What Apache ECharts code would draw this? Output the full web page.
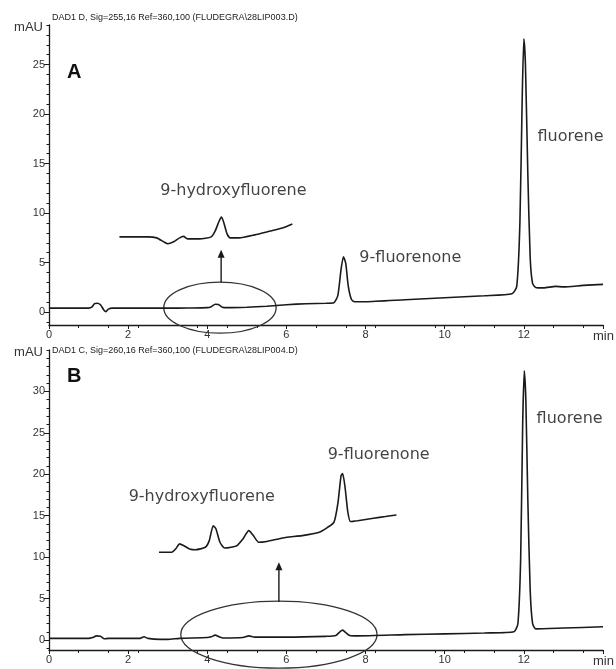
<!DOCTYPE html>
<html>
<head>
<meta charset="utf-8">
<script src="https://cdn.jsdelivr.net/npm/echarts@6/dist/echarts.min.js"></script>
<style>
  html, body { margin: 0; padding: 0; background: #fff; }
  #chart { width: 616px; height: 669px; }
</style>
</head>
<body>
<div id="chart"></div>
<script>
// run A: DAD1 D, 255 nm
const headerA = 'DAD1 D, Sig=255,16 Ref=360,100 (FLUDEGRA\\28LIP003.D)'
const traceA = [
  [0, 0.4], [0.5, 0.4], [1.0, 0.4], [1.08, 0.5], [1.15, 0.85], [1.22, 0.9], [1.3, 0.75],
  [1.38, 0.25], [1.44, 0.05], [1.5, 0.3], [1.6, 0.4], [2.0, 0.4], [2.5, 0.4], [3.0, 0.4],
  [3.5, 0.42], [4.0, 0.45], [4.1, 0.55], [4.2, 0.8], [4.28, 0.78], [4.38, 0.5], [4.5, 0.45],
  [5.0, 0.5], [5.5, 0.6], [6.0, 0.75], [6.5, 0.85], [7.0, 0.9], [7.2, 0.95], [7.3, 1.7],
  [7.38, 4.3], [7.44, 5.6], [7.5, 4.9], [7.56, 2.7], [7.64, 1.3], [7.72, 1.05], [8.0, 1.05],
  [9.0, 1.25], [10.0, 1.45], [11.0, 1.65], [11.7, 1.85], [11.82, 2.6], [11.9, 9], [11.96, 22],
  [12.0, 27.6], [12.04, 25], [12.1, 14], [12.16, 5.5], [12.22, 2.9], [12.3, 2.5], [12.5, 2.45],
  [12.8, 2.6], [13.0, 2.55], [13.5, 2.7], [14.0, 2.8]
]
const insetA = [
  [1.78, 7.6], [2.0, 7.6], [2.5, 7.6], [2.72, 7.5], [2.9, 7.1], [3.0, 6.9], [3.15, 7.1],
  [3.3, 7.5], [3.4, 7.65], [3.5, 7.4], [3.8, 7.4], [4.1, 7.6], [4.2, 8.2], [4.3, 9.2],
  [4.36, 9.6], [4.42, 9.0], [4.5, 7.9], [4.58, 7.5], [4.8, 7.5], [5.2, 7.8], [5.6, 8.2],
  [5.9, 8.5], [6.15, 8.9]
]
const labelNamesA = ['9-hydroxyfluorene', '9-fluorenone', 'fluorene']
const labelPosA = [[2.8, 12.3], [7.83, 5.45], [12.33, 17.7]]
const ellipseA = [[4.32, 0.45, 1.42, 2.58]]   // centre t, centre mAU, half width, half height
const arrowA = [[4.35, 3.0, 6.3]]             // t, from mAU, to mAU
const yTicksA = [0, 5, 10, 15, 20, 25]

// run B: DAD1 C, 260 nm
const headerB = 'DAD1 C, Sig=260,16 Ref=360,100 (FLUDEGRA\\28LIP004.D)'
const traceB = [
  [0, 0.2], [1.0, 0.2], [1.1, 0.3], [1.2, 0.5], [1.3, 0.45], [1.4, 0.15], [1.5, 0.2],
  [2.3, 0.2], [2.4, 0.4], [2.5, 0.2], [2.8, 0.08], [3.0, 0.08], [3.3, 0.2], [4.0, 0.3],
  [4.1, 0.4], [4.2, 0.6], [4.3, 0.4], [4.4, 0.25], [4.9, 0.3], [5.05, 0.5], [5.2, 0.35],
  [6.0, 0.35], [7.0, 0.45], [7.25, 0.55], [7.35, 1.0], [7.42, 1.2], [7.5, 0.9], [7.6, 0.55],
  [7.8, 0.5], [9.0, 0.65], [10.0, 0.75], [11.0, 0.85], [11.75, 1.0], [11.85, 2], [11.92, 10],
  [11.97, 26], [12.01, 32.5], [12.05, 29], [12.1, 17], [12.16, 6], [12.22, 2], [12.3, 1.35],
  [13.0, 1.45], [14.0, 1.6]
]
const insetB = [
  [2.78, 10.6], [3.1, 10.6], [3.2, 11.0], [3.3, 11.6], [3.4, 11.4], [3.55, 11.0], [3.7, 10.9],
  [3.95, 11.2], [4.05, 12.0], [4.15, 13.8], [4.22, 13.4], [4.32, 11.8], [4.44, 11.1], [4.6, 11.2],
  [4.75, 11.4], [4.9, 12.2], [5.05, 13.2], [5.15, 12.7], [5.3, 11.8], [5.5, 11.9], [5.8, 12.2],
  [6.0, 12.4], [6.4, 12.6], [6.83, 13.0], [7.04, 13.6], [7.2, 14.2], [7.3, 16.5], [7.38, 19.8],
  [7.42, 20.1], [7.48, 18.5], [7.55, 15.5], [7.62, 14.3], [7.8, 14.4], [8.2, 14.7], [8.5, 14.9],
  [8.78, 15.1]
]
const labelNamesB = ['9-hydroxyfluorene', '9-fluorenone', 'fluorene']
const labelPosB = [[2.0, 17.3], [7.03, 22.3], [12.31, 26.7]]
const ellipseB = [[5.81, 0.66, 2.48, 4.04]]
const arrowB = [[5.81, 4.6, 9.4]]
const yTicksB = [0, 5, 10, 15, 20, 25, 30]

const xTicks = [0, 2, 4, 6, 8, 10, 12, 14]
const xLabels = [0, 2, 4, 6, 8, 10, 12]   // 14 is replaced by the "min" unit

const ink = '#1a1a1a'
const axisFont = 'Liberation Sans, Arial, sans-serif'

function range(a, b) {
  const r = []
  for (let i = a; i <= b; i++) r.push(i)
  return r
}

function makeX(gridIndex) {
  return {
    type: 'value',
    gridIndex: gridIndex,
    min: 0,
    max: 14,
    name: 'min',
    nameLocation: 'end',
    nameGap: -10,
    nameMoveOverlap: false,
    nameTextStyle: { fontSize: 13, color: '#333', fontFamily: axisFont, align: 'left', verticalAlign: 'top', padding: [5, 0, 0, 0] },
    axisLine: { onZero: false, lineStyle: { color: ink, width: 1.3 } },
    axisTick: { length: 4, customValues: xTicks, lineStyle: { color: ink } },
    minorTick: { show: true, splitNumber: 4, length: 3, lineStyle: { color: ink } },
    axisLabel: { customValues: xLabels, fontSize: 11, color: '#333', margin: 4, fontFamily: axisFont },
    splitLine: { show: false }
  }
}

function makeY(gridIndex, min, max, ticks) {
  return {
    type: 'value',
    gridIndex: gridIndex,
    position: 'left',
    min: min,
    max: max,
    name: 'mAU',
    nameLocation: 'end',
    nameGap: -2,
    nameTextStyle: { fontSize: 13, color: '#333', fontFamily: axisFont, align: 'right', verticalAlign: 'middle', padding: [0, 6, 0, 0] },
    axisLine: { show: true, onZero: false, lineStyle: { color: ink, width: 1.3 } },
    axisTick: { show: true, length: 5, customValues: ticks, lineStyle: { color: ink } },
    axisLabel: { customValues: ticks, fontSize: 11, color: '#333', margin: 4, fontFamily: axisFont },
    splitLine: { show: false }
  }
}

function makeMinorY(gridIndex, min, max) {
  return {
    type: 'value',
    gridIndex: gridIndex,
    position: 'left',
    min: min,
    max: max,
    axisLine: { show: false, onZero: false },
    axisTick: { show: true, length: 2.5, customValues: range(Math.ceil(min), Math.floor(max)), lineStyle: { color: ink } },
    axisLabel: { show: false },
    splitLine: { show: false }
  }
}

function traceSeries(data, xi, yi) {
  return {
    type: 'line',
    xAxisIndex: xi,
    yAxisIndex: yi,
    data: data,
    showSymbol: false,
    smooth: 0.2,
    lineStyle: { color: ink, width: 1.6 },
    silent: true
  }
}

function labelSeries(names, pos, xi, yi) {
  return {
    type: 'scatter',
    xAxisIndex: xi,
    yAxisIndex: yi,
    symbolSize: 1,
    itemStyle: { color: 'rgba(0,0,0,0)' },
    data: names.map((n, i) => ({ name: n, value: pos[i] })),
    label: {
      show: true,
      position: 'right',
      distance: 0,
      formatter: '{b}',
      fontSize: 16,
      color: '#111',
      fontFamily: 'DejaVu Sans, Verdana, sans-serif'
    },
    silent: true
  }
}

function renderEllipse(params, api) {
  const c = api.coord([api.value(0), api.value(1)])
  const e = api.coord([api.value(0) + api.value(2), api.value(1) + api.value(3)])
  return {
    type: 'ellipse',
    shape: { cx: c[0], cy: c[1], rx: Math.abs(e[0] - c[0]), ry: Math.abs(e[1] - c[1]) },
    style: { fill: 'none', stroke: '#333', lineWidth: 1.3 }
  }
}

function renderArrow(params, api) {
  const p0 = api.coord([api.value(0), api.value(1)])
  const p1 = api.coord([api.value(0), api.value(2)])
  return {
    type: 'group',
    children: [
      { type: 'line', shape: { x1: p0[0], y1: p0[1], x2: p1[0], y2: p1[1] + 6 }, style: { stroke: ink, lineWidth: 1.4 } },
      { type: 'polygon', shape: { points: [[p1[0], p1[1]], [p1[0] - 3.5, p1[1] + 8], [p1[0] + 3.5, p1[1] + 8]] }, style: { fill: ink } }
    ]
  }
}

function customSeries(data, render, xi, yi) {
  return {
    type: 'custom',
    xAxisIndex: xi,
    yAxisIndex: yi,
    data: data,
    renderItem: render,
    clip: false,
    silent: true
  }
}

const myChart = echarts.init(document.getElementById('chart'))
myChart.setOption({
  animation: false,
  backgroundColor: '#fff',
  title: [
    { text: headerA, left: 52, top: 13, padding: 0, textStyle: { fontSize: 9, fontWeight: 'normal', color: '#222', fontFamily: axisFont } },
    { text: headerB, left: 52, top: 346, padding: 0, textStyle: { fontSize: 9, fontWeight: 'normal', color: '#222', fontFamily: axisFont } },
    { text: 'A', left: 67, top: 62, padding: 0, textStyle: { fontSize: 20, fontWeight: 'bold', color: '#111', fontFamily: axisFont } },
    { text: 'B', left: 67, top: 366, padding: 0, textStyle: { fontSize: 20, fontWeight: 'bold', color: '#111', fontFamily: axisFont } }
  ],
  grid: [
    { left: 49, right: 13, top: 25, height: 300, outerBoundsMode: 'none' },
    { left: 49, right: 13, top: 350, height: 300, outerBoundsMode: 'none' }
  ],
  xAxis: [makeX(0), makeX(1)],
  yAxis: [
    makeY(0, -1.3, 29, yTicksA),
    makeMinorY(0, -1.3, 29),
    makeY(1, -1.2, 35, yTicksB),
    makeMinorY(1, -1.2, 35)
  ],
  series: [
    traceSeries(traceA, 0, 0),
    traceSeries(insetA, 0, 0),
    labelSeries(labelNamesA, labelPosA, 0, 0),
    customSeries(ellipseA, renderEllipse, 0, 0),
    customSeries(arrowA, renderArrow, 0, 0),
    traceSeries(traceB, 1, 2),
    traceSeries(insetB, 1, 2),
    labelSeries(labelNamesB, labelPosB, 1, 2),
    customSeries(ellipseB, renderEllipse, 1, 2),
    customSeries(arrowB, renderArrow, 1, 2)
  ]
})
</script>
</body>
</html>
